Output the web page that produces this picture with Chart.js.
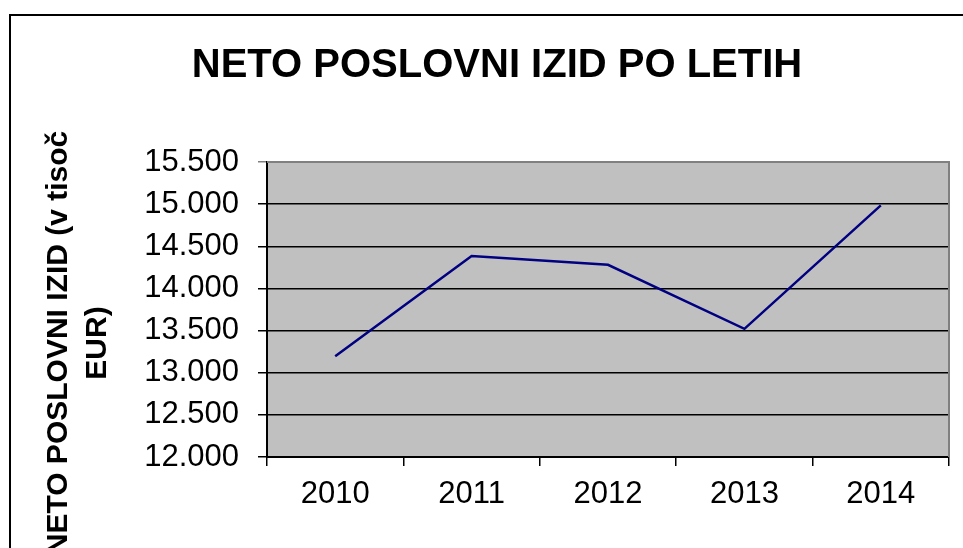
<!DOCTYPE html>
<html>
<head>
<meta charset="utf-8">
<script src="https://cdn.jsdelivr.net/npm/chart.js@4.4.1/dist/chart.umd.min.js"></script>
<style>
  html, body { margin: 0; padding: 0; background: #fff; }
  #wrap { width: 963px; height: 548px; }
</style>
</head>
<body>
<div id="wrap"><canvas id="izidChart" width="963" height="548"></canvas></div>
<script>
const years = ['2010', '2011', '2012', '2013', '2014'];
const netoIzid = [13195, 14385, 14280, 13520, 14985];
const yMin = 12000;
const yMax = 15500;
const yStep = 500;
const chartTitle = 'NETO POSLOVNI IZID PO LETIH';
const yTitleLines = ['NETO POSLOVNI IZID (v tisoč', 'EUR)'];

const FONT = "'Liberation Sans', Arial, sans-serif";

// thousands with a dot, like 15.500
function fmt(v) {
    return String(v).replace(/\B(?=(\d{3})+(?!\d))/g, '.');
}

const frameAndBackground = {
    id: 'frameAndBackground',
    beforeDraw(chart) {
        const { ctx, chartArea: a } = chart;
        ctx.save();
        ctx.fillStyle = '#fff';
        ctx.fillRect(0, 0, chart.width, chart.height);
        // outer chart frame (cut off at right and bottom)
        ctx.strokeStyle = '#000';
        ctx.lineWidth = 2;
        ctx.beginPath();
        ctx.moveTo(10, chart.height + 2);
        ctx.lineTo(10, 15);
        ctx.lineTo(chart.width + 2, 15);
        ctx.stroke();
        // plot area
        ctx.fillStyle = '#c0c0c0';
        ctx.fillRect(a.left, a.top, a.right - a.left, a.bottom - a.top);
        ctx.restore();
    },
    beforeDatasetsDraw(chart) {
        const { ctx, chartArea: a } = chart;
        ctx.save();
        ctx.strokeStyle = '#808080';
        ctx.lineWidth = 2;
        ctx.beginPath();
        ctx.moveTo(a.left, a.top);
        ctx.lineTo(a.right, a.top);
        ctx.lineTo(a.right, a.bottom);
        ctx.stroke();
        ctx.restore();
    },
    afterDraw(chart) {
        const ctx = chart.ctx;
        ctx.save();
        ctx.fillStyle = '#000';
        ctx.font = 'bold 30px ' + FONT;
        ctx.textAlign = 'center';
        ctx.textBaseline = 'alphabetic';
        const cy = 343;
        [67, 106].forEach((x, i) => {
            ctx.save();
            ctx.translate(x, cy);
            ctx.rotate(-Math.PI / 2);
            ctx.fillText(yTitleLines[i], 0, 0);
            ctx.restore();
        });
        ctx.restore();
    }
};

const ctx = document.getElementById('izidChart').getContext('2d');
new Chart(ctx, {
    type: 'line',
    data: {
        labels: years,
        datasets: [{
            label: 'Neto poslovni izid',
            data: netoIzid,
            borderColor: '#000080',
            borderWidth: 2.5,
            pointRadius: 0,
            pointHoverRadius: 0,
            tension: 0,
            fill: false
        }]
    },
    options: {
        responsive: false,
        animation: false,
        layout: { padding: { top: 0, right: 14, bottom: 0, left: 45 } },
        scales: {
            x: {
                type: 'category',
                offset: true,
                afterFit(scale) { scale.height = 91; },
                grid: {
                    offset: true,
                    drawOnChartArea: false,
                    drawTicks: true,
                    tickLength: 9,
                    color: '#000',
                    lineWidth: 1.5
                },
                border: { display: true, color: '#000', width: 2 },
                ticks: {
                    color: '#000',
                    padding: 10,
                    maxRotation: 0,
                    font: { family: FONT, size: 31 }
                }
            },
            y: {
                min: yMin,
                max: yMax,
                afterFit(scale) { scale.width = 222; },
                grid: {
                    color: (c) => (c.tick && c.tick.value === yMax ? '#808080' : '#000'),
                    lineWidth: 1.5,
                    tickLength: 9
                },
                border: { display: true, color: '#000', width: 2 },
                ticks: {
                    stepSize: yStep,
                    color: '#000',
                    padding: 19,
                    font: { family: FONT, size: 31 },
                    callback: (v) => fmt(v)
                }
            }
        },
        plugins: {
            legend: { display: false },
            tooltip: { enabled: false },
            title: {
                display: true,
                text: chartTitle,
                color: '#000',
                font: { family: FONT, size: 40, weight: 'bold', lineHeight: 1.2 },
                padding: { top: 42, bottom: 72 }
            }
        }
    },
    plugins: [frameAndBackground]
});
</script>
</body>
</html>
